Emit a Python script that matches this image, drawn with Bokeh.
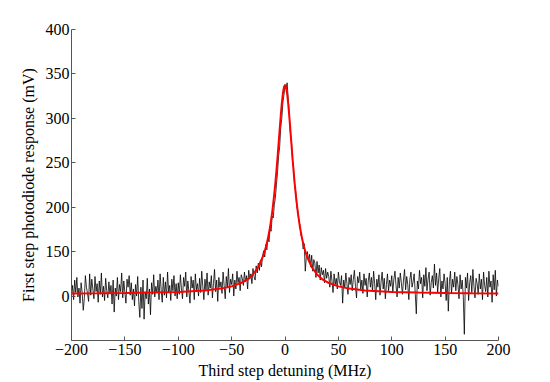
from bokeh.plotting import figure
from bokeh.models import FixedTicker, Range1d
from bokeh.embed import file_html
from bokeh.resources import INLINE

# Detuning axis (MHz), 1 MHz steps
detuning = list(range(-200, 201))

# Measured photodiode trace (axis units; tick at 100 is labelled "0")
response = [
    100, 112, 96, 118, 104, 121, 99, 109, 92, 115, 104, 84, 97, 123, 110, 103, 94, 125, 101, 119,
    108, 97, 122, 105, 114, 93, 117, 102, 126, 99, 111, 95, 120, 106, 98, 116, 103, 112, 91, 118,
    82, 109, 100, 121, 96, 113, 105, 126, 98, 117, 104, 92, 119, 110, 123, 101, 115, 96, 108, 89,
    113, 100, 122, 94, 76, 110, 86, 118, 74, 105, 97, 120, 91, 108, 79, 115, 102, 124, 99, 111,
    104, 118, 96, 125, 107, 93, 121, 101, 116, 98, 127, 104, 112, 95, 119, 106, 123, 100, 114, 97,
    115, 102, 124, 108, 97, 121, 111, 127, 99, 117, 105, 92, 122, 109, 118, 96, 125, 107, 114, 100,
    120, 104, 128, 111, 96, 119, 107, 126, 101, 116, 109, 123, 98, 114, 130, 105, 118, 94, 121, 110,
    116, 103, 127, 112, 97, 122, 109, 131, 104, 119, 113, 125, 100, 118, 108, 128, 115, 121, 106, 124,
    120, 112, 127, 116, 123, 108, 129, 119, 125, 114, 131, 122, 118, 134, 126, 137, 129, 140, 133, 145,
    151, 144, 158, 152, 166, 161, 176, 173, 190, 188, 203, 211, 226, 239, 258, 268, 290, 300, 318, 326,
    338,
    333, 340, 322, 305, 284, 276, 253, 244, 225, 218, 201, 196, 184, 180, 168, 166, 153, 159, 128, 145,
    150, 139, 147, 133, 146, 128, 141, 137, 121, 139, 126, 135, 118, 132, 124, 129, 115, 131, 120, 127,
    122, 110, 128, 117, 104, 125, 113, 120, 108, 127, 116, 112, 123, 92, 118, 109, 126, 114, 102, 121,
    113, 124, 106, 119, 129, 111, 98, 122, 115, 127, 108, 118, 103, 125, 112, 120, 99, 117, 126, 110,
    121, 105, 128, 114, 96, 119, 110, 124, 101, 116, 127, 108, 120, 97, 113, 125, 106, 118, 111, 123,
    104, 119, 128, 112, 99, 121, 109, 126, 115, 102, 118, 130, 107, 122, 113, 96, 119, 127, 110, 116,
    125, 103, 80, 117, 108, 129, 114, 121, 98, 124, 111, 132, 106, 119, 127, 101, 115, 123, 109, 136,
    112, 126, 104, 120, 131, 99, 117, 108, 125, 114, 95, 121, 83, 116, 128, 103, 119, 110, 127, 106,
    122, 113, 97, 124, 108, 118, 100, 57, 121, 109, 126, 95, 115, 123, 104, 130, 111, 98, 120, 114,
    102, 125, 108, 119, 96, 127, 112, 105, 121, 99, 128, 110, 117, 93, 124, 107, 129, 100, 118, 111,
]
assert len(response) == len(detuning)

# Lorentzian fit curve
fit_x = [-200, -175, -150, -125, -100, -75, -60, -50, -40, -35, -30, -25, -20, -18, -16, -14,
         -12, -10, -9, -8, -7, -6, -5, -4, -3, -2, -1, 0, 1, 2, 3, 4, 5, 6, 7, 8, 9, 10,
         12, 14, 16, 18, 20, 25, 30, 35, 40, 50, 60, 75, 100, 125, 150, 175, 200]
fit_y = [103.0, 103.2, 103.5, 103.9, 104.6, 106.3, 108.4, 110.9, 115.3, 118.9, 124.3, 132.7,
         146.5, 154.5, 164.7, 177.7, 194.2, 215.2, 227.6, 241.2, 255.9, 271.5, 287.4, 302.7,
         316.6, 327.7, 335.0, 337.5, 335.0, 327.7, 316.6, 302.7, 287.4, 271.5, 255.9, 241.2,
         227.6, 215.2, 194.2, 177.7, 164.7, 154.5, 146.5, 132.7, 124.3, 118.9, 115.3, 110.9,
         108.4, 106.3, 104.6, 103.9, 103.5, 103.2, 103.0]

x_ticks = [-200, -150, -100, -50, 0, 50, 100, 150, 200]
x_tick_labels = ["\u2212200", "\u2212150", "\u2212100", "\u221250", "0", "50", "100", "150", "200"]
y_ticks = [100, 150, 200, 250, 300, 350, 400]
y_tick_labels = ["0", "150", "200", "250", "300", "350", "400"]

FONT = "'Liberation Serif', 'Times New Roman', serif"

p = figure(width=550, height=382, output_backend="svg", toolbar_location=None,
           x_range=Range1d(-200, 200), y_range=Range1d(50, 400),
           min_border_left=71, min_border_right=52, min_border_top=29, min_border_bottom=42)
p.xgrid.visible = False
p.ygrid.visible = False
p.outline_line_color = None
p.background_fill_color = "white"
p.border_fill_color = "white"

p.line(detuning, response, line_color="black", line_width=0.8)
p.line(fit_x, fit_y, line_color="#ff0000", line_width=2)

p.xaxis.ticker = FixedTicker(ticks=x_ticks)
p.xaxis.major_label_overrides = {t: l for t, l in zip(x_ticks, x_tick_labels)}
p.yaxis.ticker = FixedTicker(ticks=y_ticks)
p.yaxis.major_label_overrides = {t: l for t, l in zip(y_ticks, y_tick_labels)}

p.xaxis.axis_label = "Third step detuning (MHz)"
p.yaxis.axis_label = "First step photodiode response (mV)"

for ax in (p.xaxis[0], p.yaxis[0]):
    ax.axis_line_color = "#555555"
    ax.axis_line_width = 1
    ax.major_tick_line_color = "#555555"
    ax.major_tick_in = 4
    ax.major_tick_out = 0
    ax.minor_tick_line_color = None
    ax.major_label_text_font = FONT
    ax.major_label_text_font_size = "16px"
    ax.major_label_text_color = "black"
    ax.axis_label_text_font = FONT
    ax.axis_label_text_font_size = "16px"
    ax.axis_label_text_font_style = "normal"
    ax.axis_label_text_color = "black"

p.xaxis.major_label_standoff = 3
p.xaxis.axis_label_standoff = 4
p.yaxis.major_label_standoff = 2
p.yaxis.axis_label_standoff = 6

open("out.html", "w").write(file_html(p, INLINE))
